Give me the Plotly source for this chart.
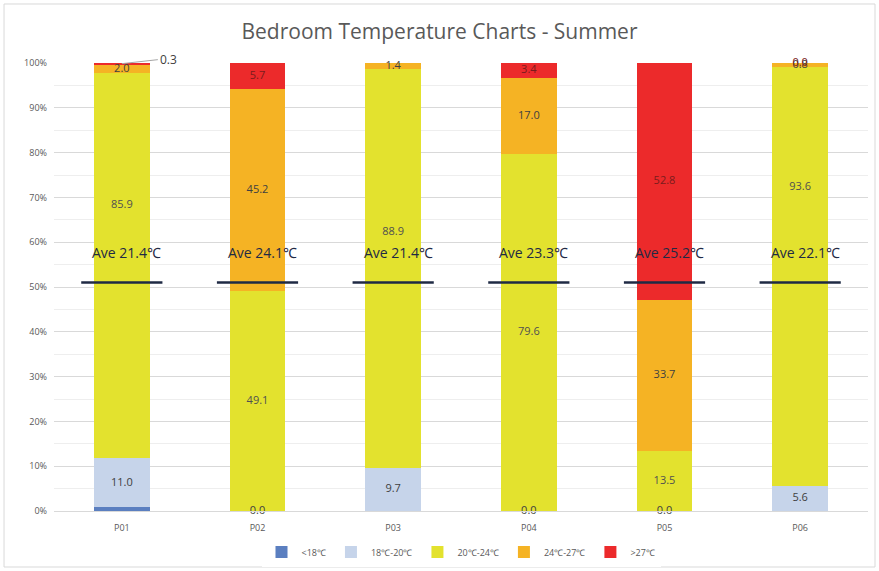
import plotly.graph_objects as go

categories = ["P01", "P02", "P03", "P04", "P05", "P06"]
series_names = ["<18℃", "18℃-20℃", "20℃-24℃", "24℃-27℃", ">27℃"]
below_18 = [0.8, 0.0, 0.0, 0.0, 0.0, 0.0]
t18_20 = [11.0, 0.0, 9.7, 0.0, 0.0, 5.6]
t20_24 = [85.9, 49.1, 88.9, 79.6, 13.5, 93.6]
t24_27 = [2.0, 45.2, 1.4, 17.0, 33.7, 0.8]
above_27 = [0.3, 5.7, 0.0, 3.4, 52.8, 0.0]
averages = [21.4, 24.1, 21.4, 23.3, 25.2, 22.1]
avg_marker_level = 51
avg_text_level = 57.6
tick_vals = [0, 10, 20, 30, 40, 50, 60, 70, 80, 90, 100]
tick_text = ["0%", "10%", "20%", "30%", "40%", "50%", "60%", "70%", "80%", "90%", "100%"]

colors = ["#5b7fc0", "#c6d4ea", "#e3e22e", "#f5b324", "#ec2a2b"]
label_colors = ["#404040", "#404040", "#505050", "#404040", "#7a1c1c"]
series = [below_18, t18_20, t20_24, t24_27, above_27]
# which data labels are shown in the reference
show = [
    [False] * 6,
    [True] * 6,
    [True] * 6,
    [True] * 6,
    [False, True, False, True, True, True],
]
# labels that were moved up inside the tall yellow segments (percent position)
label_pos_override = {(2, 0): 68.3, (2, 2): 62.2, (2, 5): 72.3}

fig = go.Figure()
for name, vals, col in zip(series_names, series, colors):
    fig.add_trace(go.Bar(
        x=categories, y=vals, name=name, marker=dict(color=col, line=dict(width=0)),
    ))

# data labels
base = [0.0] * len(categories)
for si, (vals, sh, lc) in enumerate(zip(series, show, label_colors)):
    xs, ys, ts = [], [], []
    for ci, (c, v, s) in enumerate(zip(categories, vals, sh)):
        if s:
            xs.append(c)
            ys.append(label_pos_override.get((si, ci), base[ci] + v / 2))
            ts.append(f"{v:.1f}")
        base[ci] += v
    fig.add_trace(go.Scatter(
        x=xs, y=ys, text=ts, mode="text", textposition="middle center",
        textfont=dict(size=11, color=lc, family="Open Sans"),
        showlegend=False, hoverinfo="skip", cliponaxis=False,
    ))

fig.add_trace(go.Scatter(
    x=categories, y=[avg_marker_level] * len(categories), mode="markers",
    marker=dict(symbol="line-ew-open", size=58, color="#1f2a44",
                line=dict(width=2.5, color="#1f2a44")),
    showlegend=False, hoverinfo="skip", cliponaxis=False,
))

annotations = []
for c, a in zip(categories, averages):
    annotations.append(dict(x=c, y=avg_text_level, text=f"Ave {a:.1f}℃", showarrow=False,
                            xshift=5,
                            font=dict(size=14, color="#1f2a44", family="Open Sans")))
# outside label for small >27 segment of first bar
annotations.append(dict(x=categories[0], y=below_18[0] + t18_20[0] + t20_24[0] + t24_27[0] + above_27[0] / 2,
                        text=f"{above_27[0]:.1f}", showarrow=True, arrowhead=0, arrowwidth=1,
                        arrowcolor="#a6a6a6", ax=36, ay=-4, xanchor="left",
                        font=dict(size=12, color="#404040", family="Open Sans")))

fig.update_layout(
    width=879, height=571,
    margin=dict(l=54, r=11, t=63, b=60, autoexpand=False),
    paper_bgcolor="white", plot_bgcolor="white",
    barmode="stack", bargap=0.59,
    title=dict(text="Bedroom Temperature Charts - Summer", x=0.5, xanchor="center",
               y=1 - 32 / 571, yanchor="middle",
               font=dict(size=21, color="#595959", family="Open Sans")),
    font=dict(family="Open Sans", color="#595959"),
    legend=dict(orientation="h", x=0.5, xanchor="center", yref="container",
                y=1 - 552 / 571, yanchor="middle",
                font=dict(size=9, color="#595959"), traceorder="normal",
                itemwidth=30),
    annotations=annotations,
    shapes=[dict(type="rect", xref="paper", yref="paper", x0=-0.0614, x1=1.0086,
                 y0=-0.125, y1=1.1317, line=dict(color="#d9d9d9", width=1), layer="below")],
)
fig.update_yaxes(range=[0, 100], tickvals=tick_vals, ticktext=tick_text,
                 showgrid=True, gridcolor="#d9d9d9", gridwidth=1,
                 minor=dict(dtick=5, showgrid=True, gridcolor="#eeeeee"),
                 zeroline=False, showline=False, tickfont=dict(size=9, color="#595959"),
                 ticks="", ticklabelstandoff=6)
fig.update_xaxes(range=[-0.5, len(categories) - 0.5], showline=True, linecolor="#d9d9d9",
                 tickfont=dict(size=9, color="#595959"), ticks="", ticklabelstandoff=8)

fig.write_html("out.html")
